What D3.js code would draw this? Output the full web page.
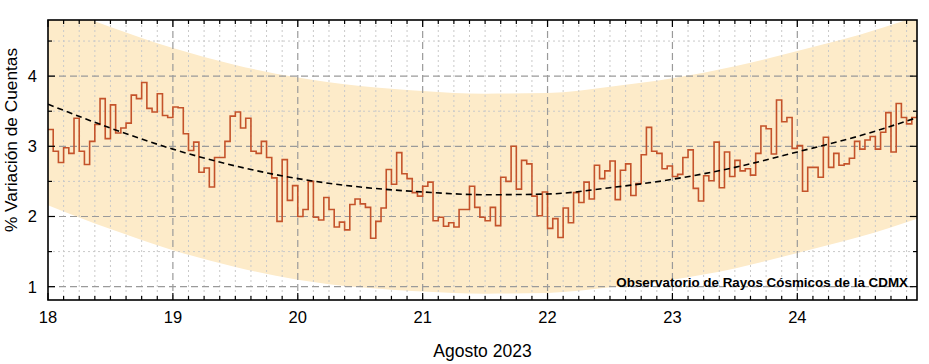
<!DOCTYPE html>
<html><head><meta charset="utf-8">
<script src="https://cdn.jsdelivr.net/npm/d3@7/dist/d3.min.js"></script>
<style>
body{margin:0;background:#fff}
svg{display:block}
text{font-family:"Liberation Sans",Arial,Helvetica,sans-serif;fill:#000}
</style>
</head><body>
<svg id="chart" width="929" height="364"></svg>
<script>
// ---------- data ----------
const xTickValues = [18, 19, 20, 21, 22, 23, 24];
const yTickValues = [1, 2, 3, 4];
const xTitle = "Agosto 2023";
const yTitle = "% Variación de Cuentas";
const creditText = "Observatorio de Rayos Cósmicos de la CDMX";
const startDay = 18;          // first hourly sample: 18 Aug 00:00
const hoursPerDay = 24;
// hourly % variation of counts, 18 Aug 00h .. 24 Aug 23h
const variation = [
  3.24,2.93,2.77,2.98,2.90,3.40,2.93,2.74,3.07,3.31,3.68,3.11,3.59,3.19,3.26,3.33,3.73,3.68,3.91,3.54,3.49,3.75,3.44,3.41,
  3.56,3.55,3.18,2.94,3.06,2.63,2.69,2.42,2.84,2.84,3.07,3.43,3.49,3.26,3.40,2.93,2.90,3.07,2.84,2.55,1.93,2.81,2.23,2.44,
  2.00,2.10,2.50,1.99,1.95,2.27,2.10,1.85,1.92,1.81,2.17,2.25,2.18,2.13,1.69,1.93,2.12,2.67,2.46,2.91,2.61,2.54,2.34,2.29,
  2.43,2.49,1.94,1.99,1.86,1.91,1.85,2.10,2.10,2.43,2.13,1.99,1.94,2.13,1.87,2.56,2.50,3.00,2.39,2.80,2.75,2.29,2.01,2.35,
  1.83,1.97,1.70,2.12,1.91,2.34,2.20,2.49,2.25,2.73,2.54,2.65,2.79,2.24,2.66,2.75,2.30,2.47,2.88,3.27,2.93,2.90,2.68,2.72,
  2.57,2.60,2.84,2.95,2.40,2.22,2.58,2.51,3.06,2.41,2.92,2.57,2.80,2.65,2.68,2.59,2.90,3.29,3.25,2.89,3.66,3.35,3.41,2.97,
  3.01,2.36,2.70,2.70,2.56,3.13,2.70,2.90,2.73,2.75,2.83,3.07,2.96,3.09,3.14,2.96,3.20,3.48,2.92,3.61,3.41,3.32,3.41,3.45
];
// fitted trend (dashed) and its confidence band, read at half-day points
const trendDays   = [18, 18.5, 19, 19.5, 20, 20.5, 21, 21.5, 22, 22.5, 23, 23.5, 24, 24.5, 24.96];
const trendValues = [3.60,3.26,2.96,2.72,2.54,2.42,2.35,2.31,2.32,2.41,2.53,2.70,2.92,3.15,3.41];
const bandLower   = [2.16,1.82,1.52,1.28,1.10,0.99,0.93,0.90,0.91,0.99,1.10,1.26,1.48,1.71,1.97];
const bandUpper   = [5.04,4.70,4.40,4.16,3.98,3.86,3.79,3.75,3.76,3.85,3.97,4.14,4.36,4.59,4.85];

// ---------- layout ----------
const svg = d3.select("#chart");
const L = 48, R = 917, T = 20, B = 300;
const lastDay = startDay + (variation.length - 1) / hoursPerDay;
const x = d3.scaleLinear().domain([startDay, lastDay]).range([L, R]);
const y = d3.scaleLinear().domain([0.81, 4.8]).range([B, T]);
const [yMin, yMax] = y.domain();

svg.append("rect").attr("width", 929).attr("height", 364).attr("fill", "#fff");
svg.append("defs").append("clipPath").attr("id", "clip")
  .append("rect").attr("x", L).attr("y", T).attr("width", R - L).attr("height", B - T);

const plot = svg.append("g").attr("clip-path", "url(#clip)");

// band
const bandData = trendDays.map((d, i) => ({d, lo: bandLower[i], hi: bandUpper[i]}));
plot.append("path").datum(bandData)
  .attr("fill", "#fdebc9")
  .attr("d", d3.area().x(p => x(p.d)).y0(p => y(p.lo)).y1(p => y(p.hi)).curve(d3.curveMonotoneX));

// grid
const minorX = d3.range(startDay * 8, Math.floor(lastDay * 8) + 1).map(v => v / 8).filter(v => v % 1 !== 0);
const minorY = d3.range(1, 10).map(v => v / 2).filter(v => v % 1 !== 0 && v > yMin && v < yMax);
const grid = plot.append("g");
grid.selectAll("line.mx").data(minorX).join("line").attr("class", "mx")
  .attr("x1", d => x(d)).attr("x2", d => x(d)).attr("y1", T).attr("y2", B)
  .attr("stroke", "#c9c9c9").attr("stroke-width", 1).attr("stroke-dasharray", "2,3");
grid.selectAll("line.my").data(minorY).join("line").attr("class", "my")
  .attr("x1", L).attr("x2", R).attr("y1", d => y(d)).attr("y2", d => y(d))
  .attr("stroke", "#c9c9c9").attr("stroke-width", 1).attr("stroke-dasharray", "2,3");
grid.selectAll("line.Mx").data(xTickValues.slice(1)).join("line").attr("class", "Mx")
  .attr("x1", d => x(d)).attr("x2", d => x(d)).attr("y1", T).attr("y2", B)
  .attr("stroke", "#9a9a9a").attr("stroke-width", 1.2).attr("stroke-dasharray", "7,4");
grid.selectAll("line.My").data(yTickValues).join("line").attr("class", "My")
  .attr("x1", L).attr("x2", R).attr("y1", d => y(d)).attr("y2", d => y(d))
  .attr("stroke", "#9a9a9a").attr("stroke-width", 1.2).attr("stroke-dasharray", "7,4");

// step series
const series = variation.map((v, i) => ({t: startDay + i / hoursPerDay, v}));
plot.append("path").datum(series)
  .attr("fill", "none").attr("stroke", "#c4532b").attr("stroke-width", 1.6)
  .attr("d", d3.line().x(p => x(p.t)).y(p => y(p.v)).curve(d3.curveStepAfter));

// trend
const trendData = trendDays.map((d, i) => ({d, v: trendValues[i]}));
plot.append("path").datum(trendData)
  .attr("fill", "none").attr("stroke", "#000").attr("stroke-width", 1.6).attr("stroke-dasharray", "6,4")
  .attr("d", d3.line().x(p => x(p.d)).y(p => y(p.v)).curve(d3.curveMonotoneX));

// ticks (inward, mirrored)
const ticks = svg.append("g").attr("stroke", "#000").attr("stroke-width", 1.2);
const majorLen = 7, minorLen = 4;
xTickValues.concat(minorX).forEach(d => {
  const len = xTickValues.includes(d) ? majorLen : minorLen;
  ticks.append("line").attr("x1", x(d)).attr("x2", x(d)).attr("y1", B).attr("y2", B - len);
  ticks.append("line").attr("x1", x(d)).attr("x2", x(d)).attr("y1", T).attr("y2", T + len);
});
yTickValues.concat(minorY).forEach(d => {
  const len = yTickValues.includes(d) ? majorLen : minorLen;
  ticks.append("line").attr("y1", y(d)).attr("y2", y(d)).attr("x1", L).attr("x2", L + len);
  ticks.append("line").attr("y1", y(d)).attr("y2", y(d)).attr("x1", R).attr("x2", R - len);
});

// frame
svg.append("rect").attr("x", L).attr("y", T).attr("width", R - L).attr("height", B - T)
  .attr("fill", "none").attr("stroke", "#000").attr("stroke-width", 1.6);

// tick labels
svg.selectAll("text.xl").data(xTickValues).join("text").attr("class", "xl")
  .attr("x", d => x(d)).attr("y", 323).attr("text-anchor", "middle")
  .attr("font-size", 16.5).text(d => d);
svg.selectAll("text.yl").data(yTickValues).join("text").attr("class", "yl")
  .attr("x", 37).attr("y", d => y(d) + 6).attr("text-anchor", "end")
  .attr("font-size", 16.5).text(d => d);

// titles
svg.append("text").attr("x", (L + R) / 2).attr("y", 357).attr("text-anchor", "middle")
  .attr("font-size", 17.5).text(xTitle);
svg.append("text").attr("transform", "translate(17,140) rotate(-90)").attr("text-anchor", "middle")
  .attr("font-size", 17.3).text(yTitle);

// credit
svg.append("text").attr("x", 908).attr("y", 287).attr("text-anchor", "end")
  .attr("font-size", 13.4).attr("font-weight", "bold").text(creditText);
</script>
</body></html>
